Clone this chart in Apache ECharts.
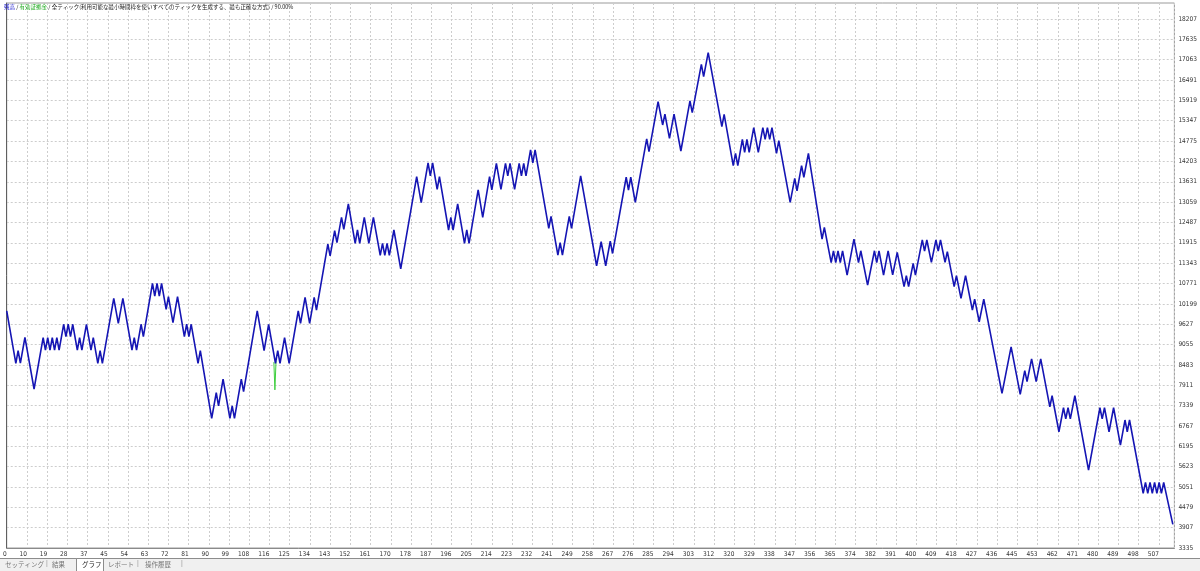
<!DOCTYPE html>
<html>
<head>
<meta charset="utf-8">
<script src="https://cdn.jsdelivr.net/npm/echarts@6/dist/echarts.min.js"></script>
<style>
html,body{margin:0;padding:0;background:#fff;}
#chart{width:1200px;height:571px;}
</style>
</head>
<body>
<div id="chart"></div>
<script>
// x tick labels (trade numbers)
const xLabels = ['0','10','19','28','37','45','54','63','72','81','90','99','108','116','125','134','143','152','161','170','178','187','196','205','214','223','232','241','249','258','267','276','285','294','303','312','320','329','338','347','356','365','374','382','391','400','409','418','427','436','445','453','462','471','480','489','498','507'];

// balance turning points: trade index and balance
const balanceTrades = [0,4,5,6,8,12,16,17,18,19,20,21,22,23,25,26,27,28,29,31,32,33,35,37,38,40,41,42,47,49,51,55,56,57,59,60,64,65,66,67,68,70,71,73,75,78,79,80,81,84,85,90,92,93,95,98,99,100,103,104,110,113,115,118,119,120,122,124,128,129,
131,133,135,136,141,142,144,145,147,148,150,153,154,155,157,159,161,164,165,166,167,168,170,173,180,182,185,186,187,189,190,194,195,196,198,201,202,203,207,209,212,213,215,217,219,220,221,223,225,226,227,228,230,231,232,238,239,242,243,244,247,248,252,259,261,263,
265,266,272,273,274,276,281,282,286,288,289,291,293,296,300,301,305,306,308,314,315,319,320,321,323,324,325,326,328,330,332,333,334,335,336,338,339,344,346,347,349,350,352,358,359,362,363,364,365,366,367,369,372,374,375,378,381,382,383,385,387,389,
391,394,395,396,398,399,402,403,404,406,408,409,410,412,413,416,417,419,421,424,425,427,429,437,441,445,447,448,450,452,454,458,459,462,464,465,466,467,469,475,480,481,482,484,486,489,491,492,493,499,500,501,502,503,504,505,506,507,508,512];
const balanceValues = [10000,8525,8885,8530,9255,7805,9250,8900,9250,8900,9250,8900,9250,8900,9625,9275,9625,9275,9625,8900,9250,8900,9625,8900,9250,8525,8885,8525,10355,9650,10355,8900,9250,8900,9625,9275,10775,10420,10775,10420,10775,10045,10400,9670,10400,9275,9625,9275,9625,8525,8885,6980,7700,7330,8085,6980,7330,6980,8085,7730,10000,8885,9625,8525,8885,8525,9250,8525,10000,9650,
10380,9650,10380,10025,11880,11550,12255,11920,12630,12295,13010,11900,12275,11900,12630,11900,12630,11560,11900,11560,11900,11560,12275,11180,13775,13045,14165,13795,14165,13420,13775,12275,12630,12275,13010,11900,12275,11900,13400,12630,13775,13400,14150,13420,14150,13795,14150,13420,14150,13795,14150,13795,14525,14165,14525,12320,12660,11570,11920,11570,12660,12320,13795,11270,11945,11270,
11965,11615,13758,13400,13758,13053,14834,14478,15884,15228,15535,14853,15535,14496,15903,15573,16934,16585,17260,15179,15528,14084,14429,14084,14823,14459,14823,14459,15153,14459,15153,14823,15153,14823,15153,14429,14785,13053,13728,13379,14084,13758,14429,12021,12351,11358,11691,11358,11691,11358,11691,11009,12021,11358,11691,10728,11691,11358,11691,11009,11691,11012,
11646,10683,10990,10683,11339,11009,11995,11684,11995,11365,11995,11684,11995,11365,11665,10683,10990,10353,10990,10023,10334,9696,10334,7683,8991,7656,8320,8013,8650,8013,8650,7304,7615,6603,7278,6963,7278,6963,7615,5526,7278,6963,7278,6603,7278,6228,6933,6603,6933,4870,5181,4870,5181,4870,5181,4870,5181,4870,5181,4000];

// equity dip (only where it differs from balance)
const equityTrades = [117.3, 117.75, 118.25];
const equityValues = [8560, 7780, 8600];

const yMin = 3335, yMax = 18657, yStep = 572;
const xMin = 0, xMax = 512.7, xStep = 8.875;

const chart = echarts.init(document.getElementById('chart'), null, {renderer: 'canvas'});
const numFont = '"Liberation Sans Narrow","DejaVu Sans Condensed","Liberation Sans",sans-serif';
const gridLine = {show: true, lineStyle: {color: '#cdcdcd', type: [2, 2], width: 1}};

chart.setOption({
  animation: false,
  backgroundColor: '#ffffff',
  grid: {left: 3, right: 21, top: 3, bottom: 23, show: true, borderColor: '#9a9a9a', borderWidth: 1, backgroundColor: 'transparent'},
  xAxis: {
    type: 'value', min: xMin, max: xMax, interval: xStep,
    axisLine: {show: true, lineStyle: {color: '#8a8a8a', width: 1}},
    axisTick: {show: false},
    splitLine: gridLine,
    axisLabel: {
      show: true, fontSize: 6.5, fontFamily: numFont, color: '#333', margin: 3, align: 'right',
      showMaxLabel: false,
      formatter: function (v) { const i = Math.round(v / xStep); return xLabels[i] !== undefined ? xLabels[i] : ''; }
    }
  },
  yAxis: {
    type: 'value', position: 'right', min: yMin, max: yMax, interval: yStep,
    axisLine: {show: true, lineStyle: {color: '#606060', width: 1}},
    axisTick: {show: false},
    splitLine: gridLine,
    axisLabel: {
      show: true, fontSize: 6.5, fontFamily: numFont, color: '#333', margin: 4, showMaxLabel: false,
      formatter: function (v) { return String(Math.round(v)); }
    }
  },
  series: [
    {
      type: 'line', name: '有効証拠金', showSymbol: false, silent: true, z: 2,
      data: equityTrades.map((t, i) => [t, equityValues[i]]),
      lineStyle: {color: '#3fcf3f', width: 1}
    },
    {
      type: 'line', name: '残高', showSymbol: false, silent: true, z: 3,
      data: balanceTrades.map((t, i) => [t, balanceValues[i]]),
      lineStyle: {color: '#1515b4', width: 1.6}
    }
  ],
  graphic: [
    {
      type: 'text', left: 4, top: 4, z: 10,
      style: {
        text: '{b|残高} / {g|有効証拠金} / 全ティック(利用可能な最小時間枠を使いすべてのティックを生成する、最も正確な方式) / 90.00%',
        fontSize: 5.5, fontFamily: '"Noto Sans CJK JP",sans-serif', fill: '#222',
        rich: {
          b: {fill: '#1a1ad0', fontSize: 5.5, fontFamily: '"Noto Sans CJK JP",sans-serif'},
          g: {fill: '#1aa81a', fontSize: 5.5, fontFamily: '"Noto Sans CJK JP",sans-serif'}
        }
      }
    },
    {type: 'rect', left: 0, top: 558, z: 10, shape: {width: 1200, height: 13}, style: {fill: '#f0f0f0'}},
    {type: 'line', z: 11, shape: {x1: 0, y1: 558.5, x2: 1200, y2: 558.5}, style: {stroke: '#8c8c8c', lineWidth: 1}},
    {type: 'rect', left: 76, top: 558, z: 11, shape: {width: 27, height: 13}, style: {fill: '#ffffff', stroke: '#8c8c8c', lineWidth: 1}},
    {type: 'text', left: 5, top: 561, z: 12, style: {text: 'セッティング', fontSize: 6.5, fontFamily: '"Noto Sans CJK JP",sans-serif', fill: '#777'}},
    {type: 'text', left: 46, top: 560, z: 12, style: {text: '|', fontSize: 7, fill: '#999'}},
    {type: 'text', left: 52, top: 561, z: 12, style: {text: '結果', fontSize: 6.5, fontFamily: '"Noto Sans CJK JP",sans-serif', fill: '#777'}},
    {type: 'text', left: 82, top: 561, z: 12, style: {text: 'グラフ', fontSize: 6.5, fontFamily: '"Noto Sans CJK JP",sans-serif', fill: '#222'}},
    {type: 'text', left: 108, top: 561, z: 12, style: {text: 'レポート', fontSize: 6.5, fontFamily: '"Noto Sans CJK JP",sans-serif', fill: '#777'}},
    {type: 'text', left: 137, top: 560, z: 12, style: {text: '|', fontSize: 7, fill: '#999'}},
    {type: 'text', left: 145, top: 561, z: 12, style: {text: '操作履歴', fontSize: 6.5, fontFamily: '"Noto Sans CJK JP",sans-serif', fill: '#777'}},
    {type: 'text', left: 181, top: 560, z: 12, style: {text: '|', fontSize: 7, fill: '#999'}}
  ]
});
</script>
</body>
</html>
